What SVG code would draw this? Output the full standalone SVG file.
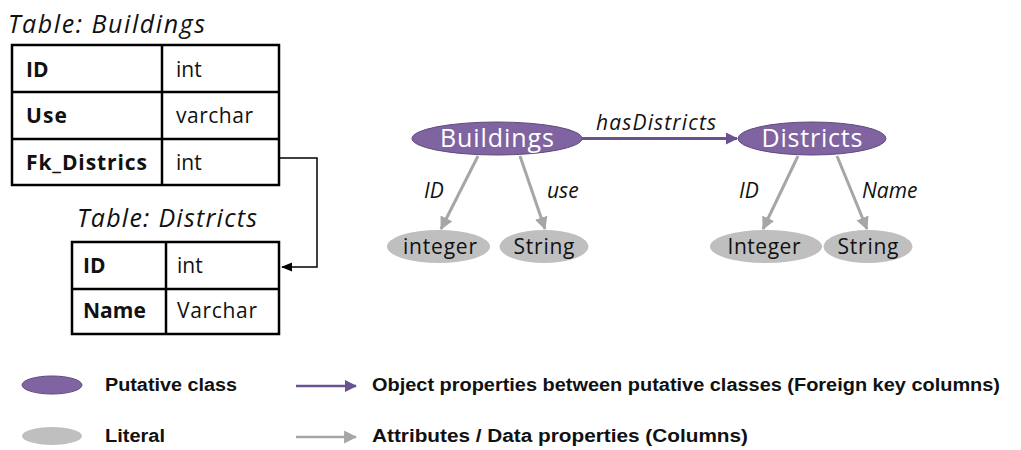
<svg xmlns="http://www.w3.org/2000/svg" width="1021" height="450" viewBox="0 0 1021 450">
  <style>
    .title { font-family: "Open Sans", "Noto Sans", sans-serif; font-style: italic; font-size: 25px; fill: #111; }
    .key { font-family: "Open Sans", "Noto Sans", sans-serif; font-weight: bold; font-size: 21px; fill: #111; }
    .typ { font-family: "Open Sans", "Noto Sans", sans-serif; font-size: 21px; fill: #111; }
    .cell { fill: none; stroke: #000; stroke-width: 2.5; }
    .cls { fill: #8064a2; stroke: #5f4b7d; stroke-width: 1; }
    .lit { fill: #bfbfbf; }
    .clsText { font-family: "Open Sans", "Noto Sans", sans-serif; font-size: 25px; fill: #fff; text-anchor: middle; }
    .litText { font-family: "Open Sans", "Noto Sans", sans-serif; font-size: 21px; fill: #111; text-anchor: middle; }
    .edgeLabel { font-family: "Open Sans", "Noto Sans", sans-serif; font-style: italic; font-size: 21px; fill: #111; }
    .objEdge { stroke: #6a5290; stroke-width: 3; fill: none; }
    .dataEdge { stroke: #a6a6a6; stroke-width: 3; fill: none; }
    .legend { font-family: "Liberation Sans", Arial, sans-serif; font-weight: bold; font-size: 18px; fill: #111; }
  </style>
  <defs>
    <marker id="headPurple" viewBox="0 0 12 12" refX="11" refY="6" markerWidth="12" markerHeight="12" markerUnits="userSpaceOnUse" orient="auto">
      <path d="M0,0 L12,6 L0,12 Z" fill="#6a5290"/>
    </marker>
    <marker id="headGray" viewBox="0 0 12 12" refX="11" refY="6" markerWidth="13" markerHeight="13" markerUnits="userSpaceOnUse" orient="auto">
      <path d="M0,0 L12,6 L0,12 Z" fill="#a6a6a6"/>
    </marker>
    <marker id="headBlack" viewBox="0 0 12 12" refX="11" refY="6" markerWidth="11" markerHeight="11" markerUnits="userSpaceOnUse" orient="auto">
      <path d="M0,1 L12,6 L0,11 Z" fill="#000"/>
    </marker>
  </defs>

  <!-- Relational tables -->
  <g id="table-buildings">
    <text class="title" x="8" y="33" textLength="197" lengthAdjust="spacing">Table: Buildings</text>
    <rect class="cell" x="12" y="45" width="267" height="140"/>
    <line class="cell" x1="12" y1="92" x2="279" y2="92"/>
    <line class="cell" x1="12" y1="139" x2="279" y2="139"/>
    <line class="cell" x1="162" y1="45" x2="162" y2="185"/>
    <text class="key" x="26" y="77">ID</text>
    <text class="typ" x="176" y="77">int</text>
    <text class="key" x="26" y="123" textLength="41" lengthAdjust="spacing">Use</text>
    <text class="typ" x="176" y="123" textLength="77" lengthAdjust="spacing">varchar</text>
    <text class="key" x="26" y="170" textLength="121" lengthAdjust="spacing">Fk_Districs</text>
    <text class="typ" x="176" y="170">int</text>
  </g>

  <g id="table-districts">
    <text class="title" x="77" y="227" textLength="180" lengthAdjust="spacing">Table: Districts</text>
    <rect class="cell" x="72" y="242" width="207" height="92"/>
    <line class="cell" x1="72" y1="289" x2="279" y2="289"/>
    <line class="cell" x1="166" y1="242" x2="166" y2="334"/>
    <text class="key" x="83" y="273">ID</text>
    <text class="typ" x="177" y="273">int</text>
    <text class="key" x="83" y="318">Name</text>
    <text class="typ" x="177" y="318" textLength="80" lengthAdjust="spacing">Varchar</text>
  </g>

  <!-- Ontology graph nodes -->
  <g id="node-buildings">
    <ellipse class="cls" cx="497" cy="138.5" rx="85" ry="16.5"/>
    <text class="clsText" x="497" y="147" textLength="114" lengthAdjust="spacing">Buildings</text>
  </g>
  <g id="node-districts">
    <ellipse class="cls" cx="812" cy="138.5" rx="74" ry="16.5"/>
    <text class="clsText" x="812" y="147" textLength="101" lengthAdjust="spacing">Districts</text>
  </g>
  <g id="node-b-integer">
    <ellipse class="lit" cx="438.5" cy="246.5" rx="51.5" ry="16.5"/>
    <text class="litText" x="440" y="254" textLength="74" lengthAdjust="spacing">integer</text>
  </g>
  <g id="node-b-string">
    <ellipse class="lit" cx="544" cy="246.5" rx="44.5" ry="16.5"/>
    <text class="litText" x="544" y="254" textLength="61" lengthAdjust="spacing">String</text>
  </g>
  <g id="node-d-integer">
    <ellipse class="lit" cx="766" cy="246.5" rx="56" ry="16.5"/>
    <text class="litText" x="764" y="254" textLength="73" lengthAdjust="spacing">Integer</text>
  </g>
  <g id="node-d-string">
    <ellipse class="lit" cx="868" cy="246.5" rx="44.5" ry="16.5"/>
    <text class="litText" x="868" y="254" textLength="61" lengthAdjust="spacing">String</text>
  </g>

  <!-- Connectors -->
  <g id="connectors">
    <polyline points="279,158 317,158 317,267 282,267" fill="none" stroke="#000" stroke-width="1.5" marker-end="url(#headBlack)"/>
    <line class="objEdge" x1="582" y1="138.5" x2="737" y2="138.5" marker-end="url(#headPurple)"/>
    <text class="edgeLabel" x="596" y="130" textLength="120" lengthAdjust="spacing">hasDistricts</text>
    <line class="dataEdge" x1="478" y1="156" x2="441" y2="229" marker-end="url(#headGray)"/>
    <text class="edgeLabel" x="424" y="198">ID</text>
    <line class="dataEdge" x1="520" y1="156" x2="545" y2="229" marker-end="url(#headGray)"/>
    <text class="edgeLabel" x="547" y="198">use</text>
    <line class="dataEdge" x1="798" y1="156" x2="763" y2="229" marker-end="url(#headGray)"/>
    <text class="edgeLabel" x="739" y="198">ID</text>
    <line class="dataEdge" x1="837" y1="156" x2="867" y2="229" marker-end="url(#headGray)"/>
    <text class="edgeLabel" x="862" y="198">Name</text>
  </g>

  <!-- Legend -->
  <g id="legend">
    <ellipse class="cls" cx="52" cy="385" rx="30" ry="9"/>
    <text class="legend" x="105" y="391" textLength="132" lengthAdjust="spacingAndGlyphs">Putative class</text>
    <ellipse class="lit" cx="52" cy="436" rx="30" ry="9"/>
    <text class="legend" x="105" y="442" textLength="60" lengthAdjust="spacingAndGlyphs">Literal</text>
    <line x1="296" y1="386" x2="356" y2="386" stroke="#6a5290" stroke-width="2.5" marker-end="url(#headPurple)"/>
    <text class="legend" x="372" y="391" textLength="628" lengthAdjust="spacingAndGlyphs">Object properties between putative classes (Foreign key columns)</text>
    <line x1="296" y1="437" x2="356" y2="437" stroke="#a6a6a6" stroke-width="2.5" marker-end="url(#headGray)"/>
    <text class="legend" x="372" y="442" textLength="376" lengthAdjust="spacingAndGlyphs">Attributes / Data properties (Columns)</text>
  </g>
</svg>
